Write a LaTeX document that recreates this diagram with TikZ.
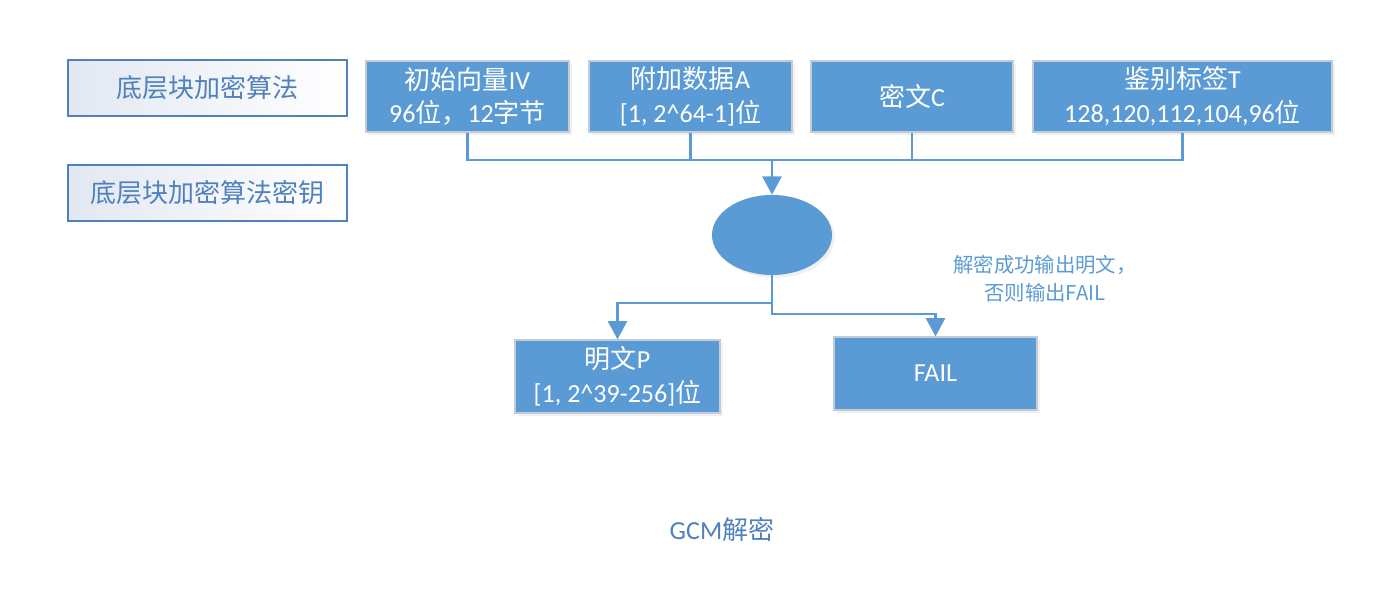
\documentclass[tikz,border=0pt]{standalone}
\usepackage{fontspec}
\setmainfont{Carlito}
\newfontfamily\cjk{Noto Sans CJK SC}
\usetikzlibrary{arrows.meta, shapes.geometric, shadows}
\tikzset{every node/.style={font=\fontsize{18.5}{24}\selectfont}}

\begin{document}
\begin{tikzpicture}[x=0.025cm, y=-0.025cm, >={Triangle[width=13.5pt, length=13pt]}]
  % Fixed bounding box (pixel grid of the reference, y downwards).
  \path[use as bounding box] (0,0) rectangle (1395,596);

  % Colors.
  \definecolor{boxcol}{HTML}{5B9BD5}
  \definecolor{edgecol}{HTML}{C3CBD6}
  \definecolor{keycol}{HTML}{4F81BD}
  \definecolor{keyshade}{HTML}{E2E8F2}

  \tikzset{
    keybox/.style={draw=keycol, line width=1.4pt, left color=keyshade, right color=white,
      text=keycol, minimum width=6.975cm, minimum height=1.4cm},
    databox/.style={draw=edgecol, line width=0.8pt, fill=boxcol, text=white, align=center,
      minimum height=1.775cm, inner sep=0pt,
      drop shadow={opacity=0.12, shadow xshift=2pt, shadow yshift=-2pt}},
    wire/.style={draw=boxcol, line width=1.9pt},
  }

  % Key material on the left.
  \node[keybox] (alg) at (207.5,88) {\cjk 底层块加密算法};
  \node[keybox] (key) at (207.5,193) {\cjk 底层块加密算法密钥};

  % Inputs.
  \node[databox, minimum width=5.075cm] (iv) at (467.5,96.5)
    {{\cjk 初始向量}IV\\96{\cjk 位，}12{\cjk 字节}};
  \node[databox, minimum width=5.075cm] (ad) at (690.5,96.5)
    {{\cjk 附加数据}A\\{}[1, 2\^{}64-1]{\cjk 位}};
  \node[databox, minimum width=5.05cm] (ct) at (912,96.5) {{\cjk 密文}C};
  \node[databox, minimum width=7.475cm] (tag) at (1182.5,96.5)
    {{\cjk 鉴别标签}T\\128,120,112,104,96{\cjk 位}};

  % Decryption step.
  \node[ellipse, fill=boxcol, minimum width=3cm, minimum height=2cm, inner sep=0pt,
    drop shadow={opacity=0.12, shadow xshift=2pt, shadow yshift=-2pt}] (dec) at (772,235) {};

  % Outputs.
  \node[databox, minimum width=5.125cm, minimum height=1.825cm] (pt) at (617.5,376.5)
    {{\cjk 明文}P\\{}[1, 2\^{}39-256]{\cjk 位}};
  \node[databox, minimum width=5.075cm, minimum height=1.825cm] (fail) at (935.5,373.5) {FAIL};

  % Bus into the decryption step.
  \coordinate (bus) at (772,160);
  \draw[wire] (iv.south) |- (bus) -| (tag.south);
  \draw[wire] (ad.south) |- (bus);
  \draw[wire] (ct.south) |- (bus);
  \draw[wire, ->, boxcol] (bus) -- (dec.north);

  % Branches to the outputs.
  \coordinate (okturn) at (772,303);
  \coordinate (failturn) at (772,314);
  \draw[wire, ->, boxcol] (dec.south) -- (okturn) -| (pt.north);
  \draw[wire, ->, boxcol] (dec.south) -- (failturn) -| (fail.north);

  % Notes.
  \node[text=boxcol, align=center, font=\cjk\fontsize{14.5}{20}\selectfont] (note) at (1045,279)
    {解密成功输出明文，\\否则输出FAIL};
  \node[text=keycol] (title) at (722,530) {GCM{\cjk 解密}};
\end{tikzpicture}
\end{document}
